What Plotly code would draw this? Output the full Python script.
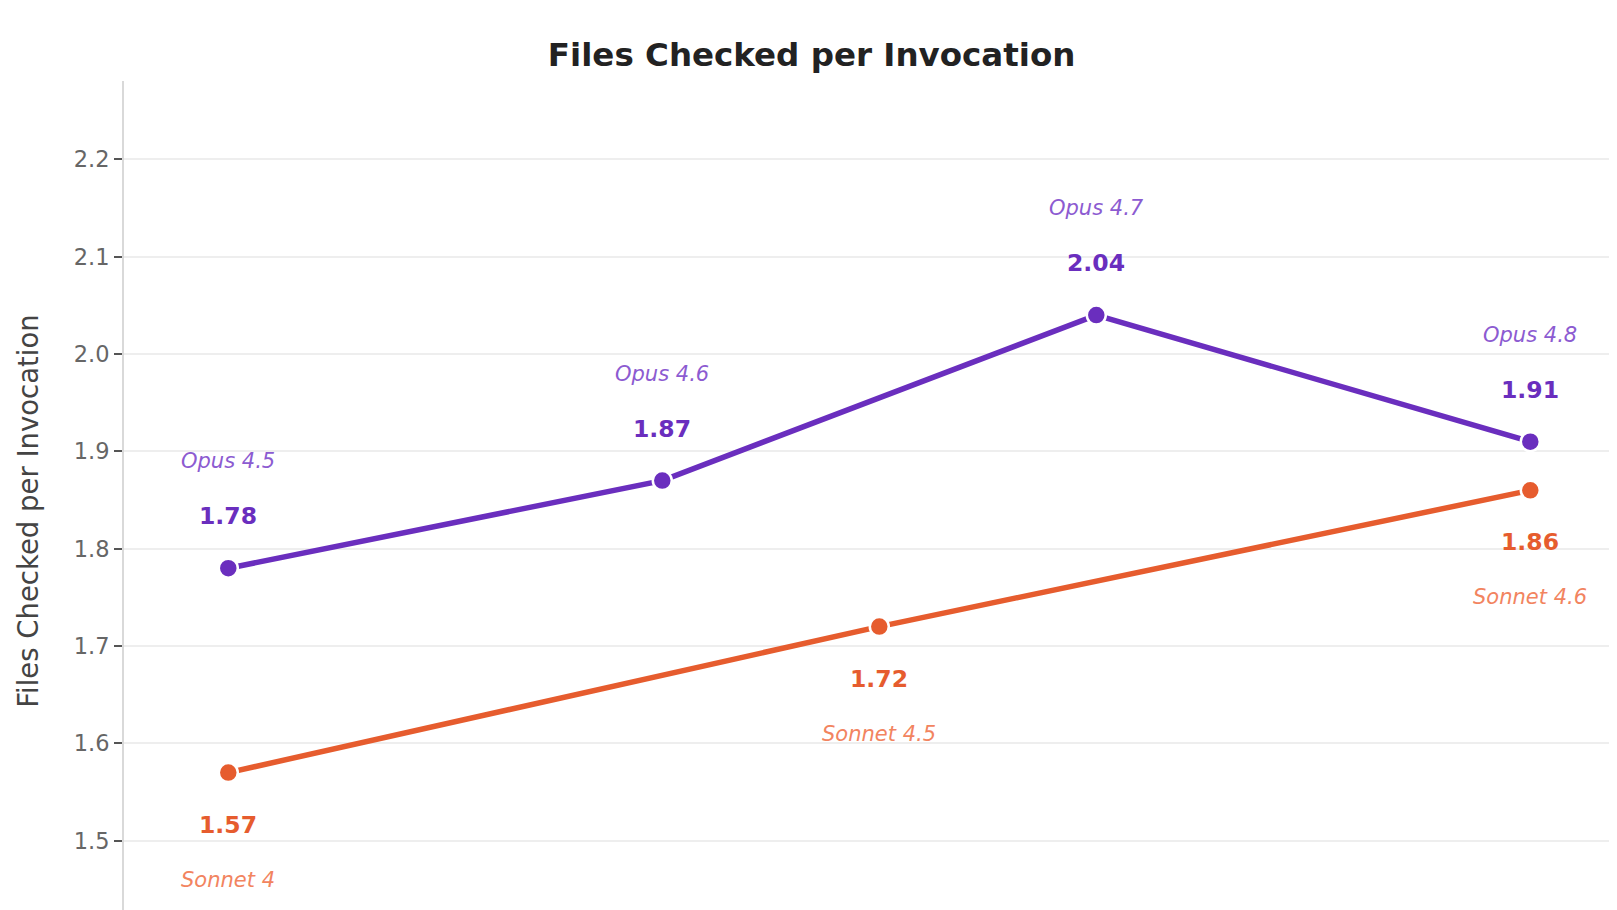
import plotly.graph_objects as go

# release order positions (x) and values
opus_x = [0, 2, 4, 6]
opus_y = [1.78, 1.87, 2.04, 1.91]
opus_names = ["Opus 4.5", "Opus 4.6", "Opus 4.7", "Opus 4.8"]

sonnet_x = [0, 3, 6]
sonnet_y = [1.57, 1.72, 1.86]
sonnet_names = ["Sonnet 4", "Sonnet 4.5", "Sonnet 4.6"]

y_ticks = [1.5, 1.6, 1.7, 1.8, 1.9, 2.0, 2.1, 2.2]

PURPLE = "#6A2EBE"
PURPLE_LIGHT = "#8C5BD1"
ORANGE = "#E65C2E"
ORANGE_LIGHT = "#F2845F"
FONT = "DejaVu Sans"

fig = go.Figure()

fig.add_trace(go.Scatter(
    x=opus_x, y=opus_y, mode="lines+markers", name="Opus",
    line=dict(color=PURPLE, width=5.5),
    marker=dict(color=PURPLE, size=19, line=dict(color="white", width=2.5)),
))
fig.add_trace(go.Scatter(
    x=sonnet_x, y=sonnet_y, mode="lines+markers", name="Sonnet",
    line=dict(color=ORANGE, width=5.5),
    marker=dict(color=ORANGE, size=19, line=dict(color="white", width=2.5)),
))

annotations = []
for x, y, n in zip(opus_x, opus_y, opus_names):
    annotations.append(dict(x=x, y=y, text=f"<b>{y:.2f}</b>", showarrow=False,
                            yshift=52, font=dict(size=23.5, color=PURPLE, family=FONT)))
    annotations.append(dict(x=x, y=y, text=f"<i>{n}</i>", showarrow=False,
                            yshift=107, font=dict(size=21, color=PURPLE_LIGHT, family=FONT)))
for x, y, n in zip(sonnet_x, sonnet_y, sonnet_names):
    annotations.append(dict(x=x, y=y, text=f"<b>{y:.2f}</b>", showarrow=False,
                            yshift=-52, font=dict(size=23.5, color=ORANGE, family=FONT)))
    annotations.append(dict(x=x, y=y, text=f"<i>{n}</i>", showarrow=False,
                            yshift=-107, font=dict(size=21, color=ORANGE_LIGHT, family=FONT)))

fig.update_layout(
    width=1617, height=939,
    title=dict(text="<b>Files Checked per Invocation</b>", x=0.497, xanchor="center",
               y=0.9503, yanchor="middle", font=dict(size=32.5, color="#222222", family=FONT)),
    font=dict(family=FONT, color="#666666"),
    plot_bgcolor="white", paper_bgcolor="white",
    showlegend=False,
    margin=dict(l=116, r=0, t=73, b=6),
    annotations=annotations,
    xaxis=dict(range=[-0.4806, 6.4364], showticklabels=False, showgrid=False,
               zeroline=False, showline=False, ticks=""),
    yaxis=dict(range=[1.397, 2.2805], tickvals=y_ticks, tickformat=".1f",
               showgrid=True, gridcolor="#EEEEEE", gridwidth=1.5,
               zeroline=False, showline=True, linecolor="#D9D9D9", linewidth=2,
               ticks="outside", ticklen=8, tickcolor="#555555", tickwidth=2,
               tickfont=dict(size=22.5, color="#666666"),
               title=dict(text="Files Checked per Invocation", standoff=27,
                          font=dict(size=27.5, color="#444444"))),
)

fig.write_html("out.html")
